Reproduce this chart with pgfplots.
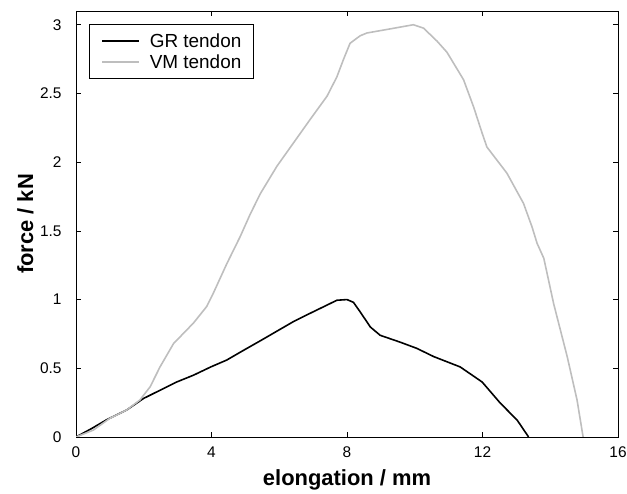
\documentclass[border=0pt]{standalone}
\usepackage{pgfplots}
\pgfplotsset{compat=1.18}
\usepackage{fontspec}
\setmainfont{Liberation Sans}
\definecolor{vmgray}{RGB}{190,190,190}
\begin{document}
\begin{tikzpicture}[x=1bp,y=1bp]
\useasboundingbox (0,0) rectangle (627,494);
\begin{axis}[
  at={(76bp,57bp)}, anchor=south west,
  scale only axis, width=542bp, height=426bp,
  xmin=0, xmax=16, ymin=0, ymax=3.1,
  xtick={0,4,8,12,16}, ytick={0,0.5,1,1.5,2,2.5,3},
  yticklabels={0,0.5,1,1.5,2,2.5,3},
  xticklabels={0,4,8,12,16},
  tick align=inside, major tick length=5bp,
  ticklabel style={font=\fontsize{15.5}{18}\selectfont},
  yticklabel style={xshift=-11bp},
  xticklabel style={yshift=-6bp},
  axis line style={line width=0.8pt},
  tick style={black, line width=0.6pt},
  xlabel={\textbf{elongation / mm}},
  ylabel={\textbf{force / kN}},
  label style={font=\fontsize{22}{24}\selectfont},
  xlabel style={at={(axis description cs:0.5,0)}, anchor=base, yshift=-48.7bp},
  ylabel style={at={(axis description cs:0,0.5)}, anchor=base, yshift=43bp},
  legend style={at={(rel axis cs:0,1)}, anchor=north west,
    xshift=13bp, yshift=-13bp,
    draw=black, line width=0.6pt, font=\fontsize{19}{20}\selectfont,
    nodes={inner sep=0pt},
    inner xsep=12bp, inner ysep=9bp, row sep=6bp, column sep=10bp},
  legend cell align=left,
  legend image code/.code={\draw[#1, line width=1.5pt] (0bp,0bp) -- (37bp,0bp);},
]
\addplot[black, line width=1.6pt] coordinates {
(0,0) (0.45,0.06) (0.9,0.125) (1.5,0.197) (1.99,0.28) (2.48,0.34) (2.97,0.40)
(3.47,0.45) (3.98,0.51) (4.45,0.56) (4.94,0.63) (5.44,0.70) (5.93,0.77)
(6.42,0.84) (6.91,0.90) (7.41,0.96) (7.70,0.995) (8.0,1.0) (8.19,0.98)
(8.39,0.91) (8.69,0.80) (8.98,0.74) (9.57,0.69) (10.06,0.645) (10.56,0.585)
(11.34,0.51) (11.99,0.40) (12.53,0.245) (13.02,0.124) (13.36,0)
};
\addlegendentry{GR tendon}
\addplot[vmgray, line width=1.6pt] coordinates {
(0,0) (0.51,0.05) (1.0,0.136) (1.5,0.197) (1.89,0.27) (2.19,0.366) (2.48,0.51)
(2.88,0.68) (3.47,0.83) (3.86,0.95) (4.06,1.05) (4.45,1.26) (4.85,1.46)
(5.14,1.62) (5.44,1.77) (5.93,1.97) (6.42,2.14) (6.91,2.31) (7.41,2.48)
(7.70,2.62) (7.9,2.75) (8.09,2.865) (8.39,2.92) (8.59,2.94) (9.28,2.97)
(9.96,3.0) (10.26,2.975) (10.66,2.88) (10.95,2.80) (11.44,2.60) (11.74,2.40)
(11.99,2.21) (12.13,2.11) (12.72,1.92) (13.21,1.70) (13.46,1.53) (13.61,1.41)
(13.81,1.30) (14.1,0.97) (14.5,0.585) (14.79,0.27) (14.97,0)
};
\addlegendentry{VM tendon}
\end{axis}
\end{tikzpicture}
\end{document}
